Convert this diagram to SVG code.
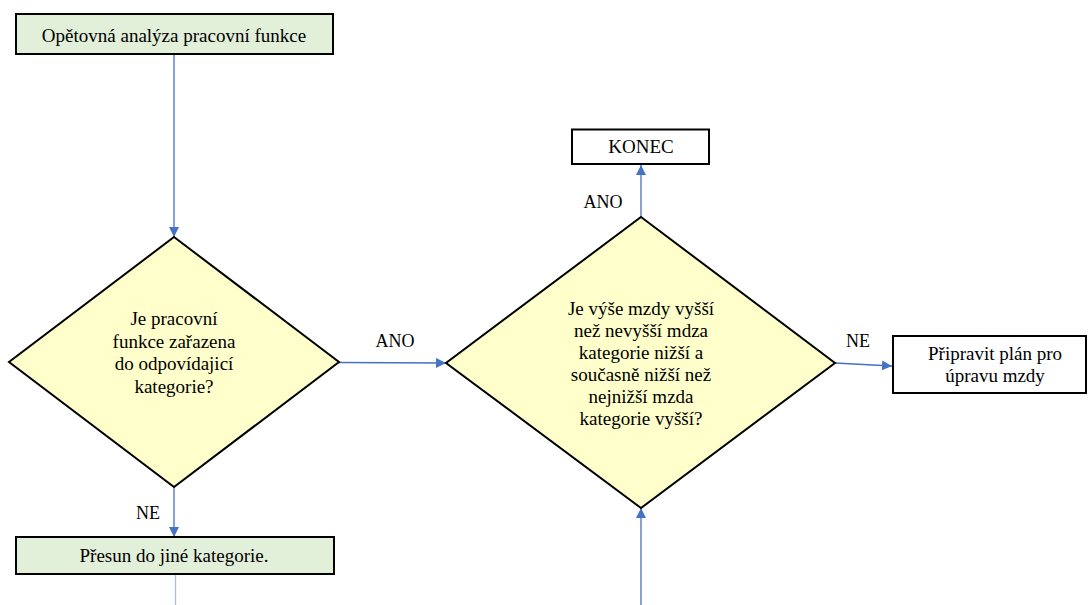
<svg xmlns="http://www.w3.org/2000/svg" width="1088" height="605" viewBox="0 0 1088 605">
<style>
text{font-size:19px;fill:#000;text-anchor:middle}
.lbl{font-size:18px}
.green{fill:#E2EFD9;stroke:#000;stroke-width:2}
.white{fill:#fff;stroke:#000;stroke-width:2}
.dia{fill:#FFFFCC;stroke:#000;stroke-width:2}
.con{stroke:#4472C4;stroke-width:1.3;fill:none}
</style>
<defs>
<marker id="arr" viewBox="0 0 10 10" refX="10" refY="5" markerWidth="10" markerHeight="10" markerUnits="userSpaceOnUse" orient="auto">
<path d="M0,0 L10,5 L0,10 z" fill="#4472C4"/>
</marker>
</defs>
<rect width="1088" height="605" fill="#fff"/>
<g font-family="'Liberation Serif', 'DejaVu Serif', serif">
<g id="connectors">
<line class="con" x1="174" y1="54" x2="174" y2="237" marker-end="url(#arr)"/>
<line class="con" x1="338" y1="362.5" x2="446" y2="363" marker-end="url(#arr)"/>
<line class="con" x1="641" y1="217" x2="641" y2="165" marker-end="url(#arr)"/>
<line class="con" x1="835" y1="363" x2="892" y2="366" marker-end="url(#arr)"/>
<line class="con" x1="174" y1="487" x2="174" y2="537" marker-end="url(#arr)"/>
<line class="con" x1="175.5" y1="574" x2="175.5" y2="605" style="stroke:#A9BFE6"/>
<line class="con" x1="641" y1="605" x2="641" y2="508" marker-end="url(#arr)"/>
<text class="lbl" x="395" y="347">ANO</text>
<text class="lbl" x="603" y="208">ANO</text>
<text class="lbl" x="858" y="347">NE</text>
<text class="lbl" x="148" y="519">NE</text>
</g>
<g id="start">
<rect class="green" x="16" y="14" width="317" height="40"/>
<text x="174" y="42">Opětovná analýza pracovní funkce</text>
</g>
<g id="decision1">
<polygon class="dia" points="174,237 339,362 174,487 9,362"/>
<text x="174" y="325">Je pracovní</text>
<text x="174" y="347.5">funkce zařazena</text>
<text x="174" y="370">do odpovídajicí</text>
<text x="174" y="392.5">kategorie?</text>
</g>
<g id="decision2">
<polygon class="dia" points="641,217 835,363 641,508 446,363"/>
<text x="641" y="314.5">Je výše mzdy vyšší</text>
<text x="641" y="336.5">než nevyšší mdza</text>
<text x="641" y="358.5">kategorie nižší a</text>
<text x="641" y="380.5">současně nižší než</text>
<text x="641" y="402.5">nejnižší mzda</text>
<text x="641" y="425">kategorie vyšší?</text>
</g>
<g id="end">
<rect class="white" x="572" y="129.5" width="137" height="34.5"/>
<text x="641" y="152.5">KONEC</text>
</g>
<g id="plan">
<rect class="white" x="893" y="336" width="193" height="57"/>
<text x="995" y="360">Připravit plán pro</text>
<text x="995" y="382">úpravu mzdy</text>
</g>
<g id="move">
<rect class="green" x="16" y="537" width="318" height="37"/>
<text x="174" y="562">Přesun do jiné kategorie.</text>
</g>
</g>
</svg>
